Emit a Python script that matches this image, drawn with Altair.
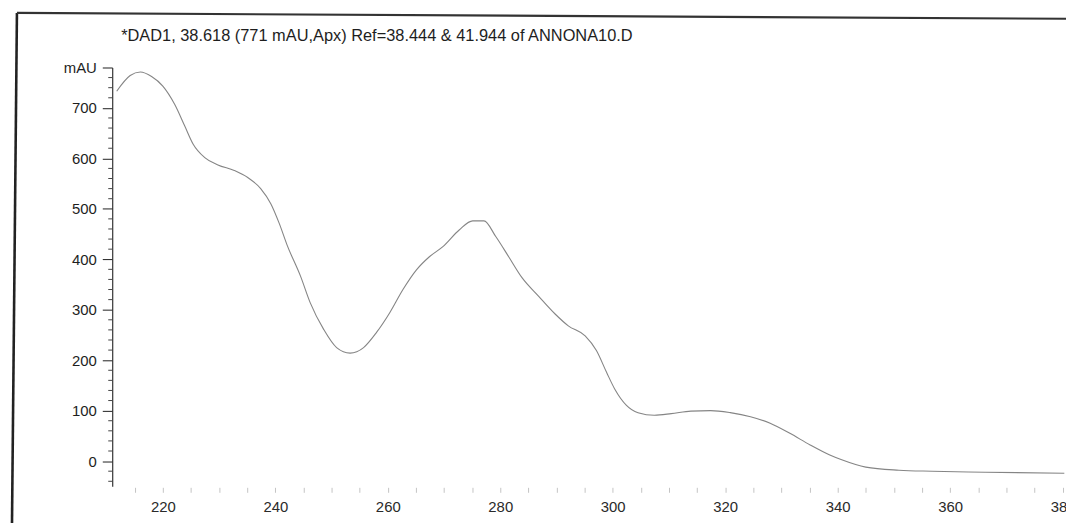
import altair as alt
import pandas as pd

# Spectrum: wavelength (nm) and absorbance (mAU)
wavelength = [211.8, 214.2, 216.0, 218.0, 220.0, 222.1, 223.9, 225.4, 227.4, 229.8,
              232.7, 235.1, 237.4, 239.2, 240.7, 242.1, 244.5, 246.2, 248.6, 250.9,
              253.3, 255.7, 258.0, 260.35, 262.7, 265.1, 267.4, 269.8, 272.7, 275.1,
              277.1, 279.2, 281.5, 283.9, 286.8, 289.8, 292.1, 295.1, 297.1, 298.9,
              300.35, 302.4, 304.5, 307.4, 310.4, 313.9, 317.4, 320.9, 324.5, 328.0,
              331.5, 335.1, 338.6, 340.6, 345.0, 350.9, 356.8, 366.2, 380.3]
absorbance = [733, 764, 771, 762, 743, 707, 664, 628, 602, 587,
              576, 562, 540, 510, 471, 428, 366, 314, 261, 225,
              214, 225, 255, 294, 340, 379, 405, 425, 458, 476,
              476, 445, 405, 363, 327, 291, 268, 248, 219, 176,
              143, 111, 96, 91, 94, 99, 100, 96, 88, 75,
              55, 32, 12, 3, -12, -18, -20, -22, -24]

y_major = [0, 100, 200, 300, 400, 500, 600, 700, 780]
y_minor = [-40, -20, 20, 40, 60, 80, 120, 140, 160, 180, 220, 240, 260, 280,
           320, 340, 360, 380, 420, 440, 460, 480, 520, 540, 560, 580,
           620, 640, 660, 680, 720, 740, 760]
x_ticks = list(range(215, 385, 5))

title_text = "*DAD1, 38.618 (771 mAU,Apx) Ref=38.444 & 41.944 of ANNONA10.D"

X_DOMAIN = [211, 380.6]
Y_DOMAIN = [-50, 780]
W = 961
H = 422
FONT = "Liberation Sans"

df = pd.DataFrame({"nm": wavelength, "mAU": absorbance})
minor_df = pd.DataFrame({"v": y_minor})

xs = alt.Scale(domain=X_DOMAIN, nice=False, zero=False)
ys = alt.Scale(domain=Y_DOMAIN, nice=False, zero=False)

curve = alt.Chart(df).mark_line(color="#858585", strokeWidth=1.1, interpolate="monotone").encode(
    x=alt.X("nm:Q", scale=xs,
            axis=alt.Axis(title=None, values=x_ticks, domain=False, grid=False,
                          tickSize=5, tickColor="#c4c4c4", tickWidth=1,
                          offset=1,
                          labelExpr="datum.value % 20 == 0 ? datum.label : ''",
                          labelFont=FONT, labelFontSize=15, labelColor="#2a2a2a",
                          labelPadding=7, labelOverlap=False, labelFlush=False,
                          labelBound=False)),
    y=alt.Y("mAU:Q", scale=ys,
            axis=alt.Axis(title=None, values=y_major, grid=False,
                          domainColor="#333", domainWidth=1.2,
                          tickSize=10, tickColor="#333", tickWidth=1.1,
                          labelExpr="datum.value == 780 ? 'mAU' : datum.label",
                          labelFont=FONT, labelFontSize=15, labelColor="#1e1e1e",
                          labelPadding=6, labelOverlap=False, labelFlush=False)),
)

minor = alt.Chart(minor_df).mark_rule(color="#444", strokeWidth=1).encode(
    y=alt.Y("v:Q", scale=ys),
    x=alt.value(-4),
    x2=alt.value(0),
)

title = alt.Chart(pd.DataFrame({"t": [title_text]})).mark_text(
    align="left", baseline="middle", font=FONT, fontSize=16.5, color="#1e1e1e"
).encode(text="t:N", x=alt.value(9), y=alt.value(-32))

frame_left = alt.Chart(pd.DataFrame({"k": [0]})).mark_rule(color="#222", strokeWidth=2.6).encode(
    x=alt.value(-96), y=alt.value(-55), x2=alt.value(-101), y2=alt.value(H + 40)
)
frame_top = alt.Chart(pd.DataFrame({"k": [0]})).mark_rule(color="#333", strokeWidth=2.2).encode(
    x=alt.value(-96), y=alt.value(-55), x2=alt.value(W + 20), y2=alt.value(-49)
)

chart = alt.layer(frame_left, frame_top, minor, curve, title).properties(
    width=W, height=H,
    autosize=alt.AutoSizeParams(type="none"),
    padding={"left": 105, "top": 58, "right": 0, "bottom": 35},
    background="white",
).configure_view(stroke=None)

chart.save("out.html", embed_options={"renderer": "svg", "actions": False})
